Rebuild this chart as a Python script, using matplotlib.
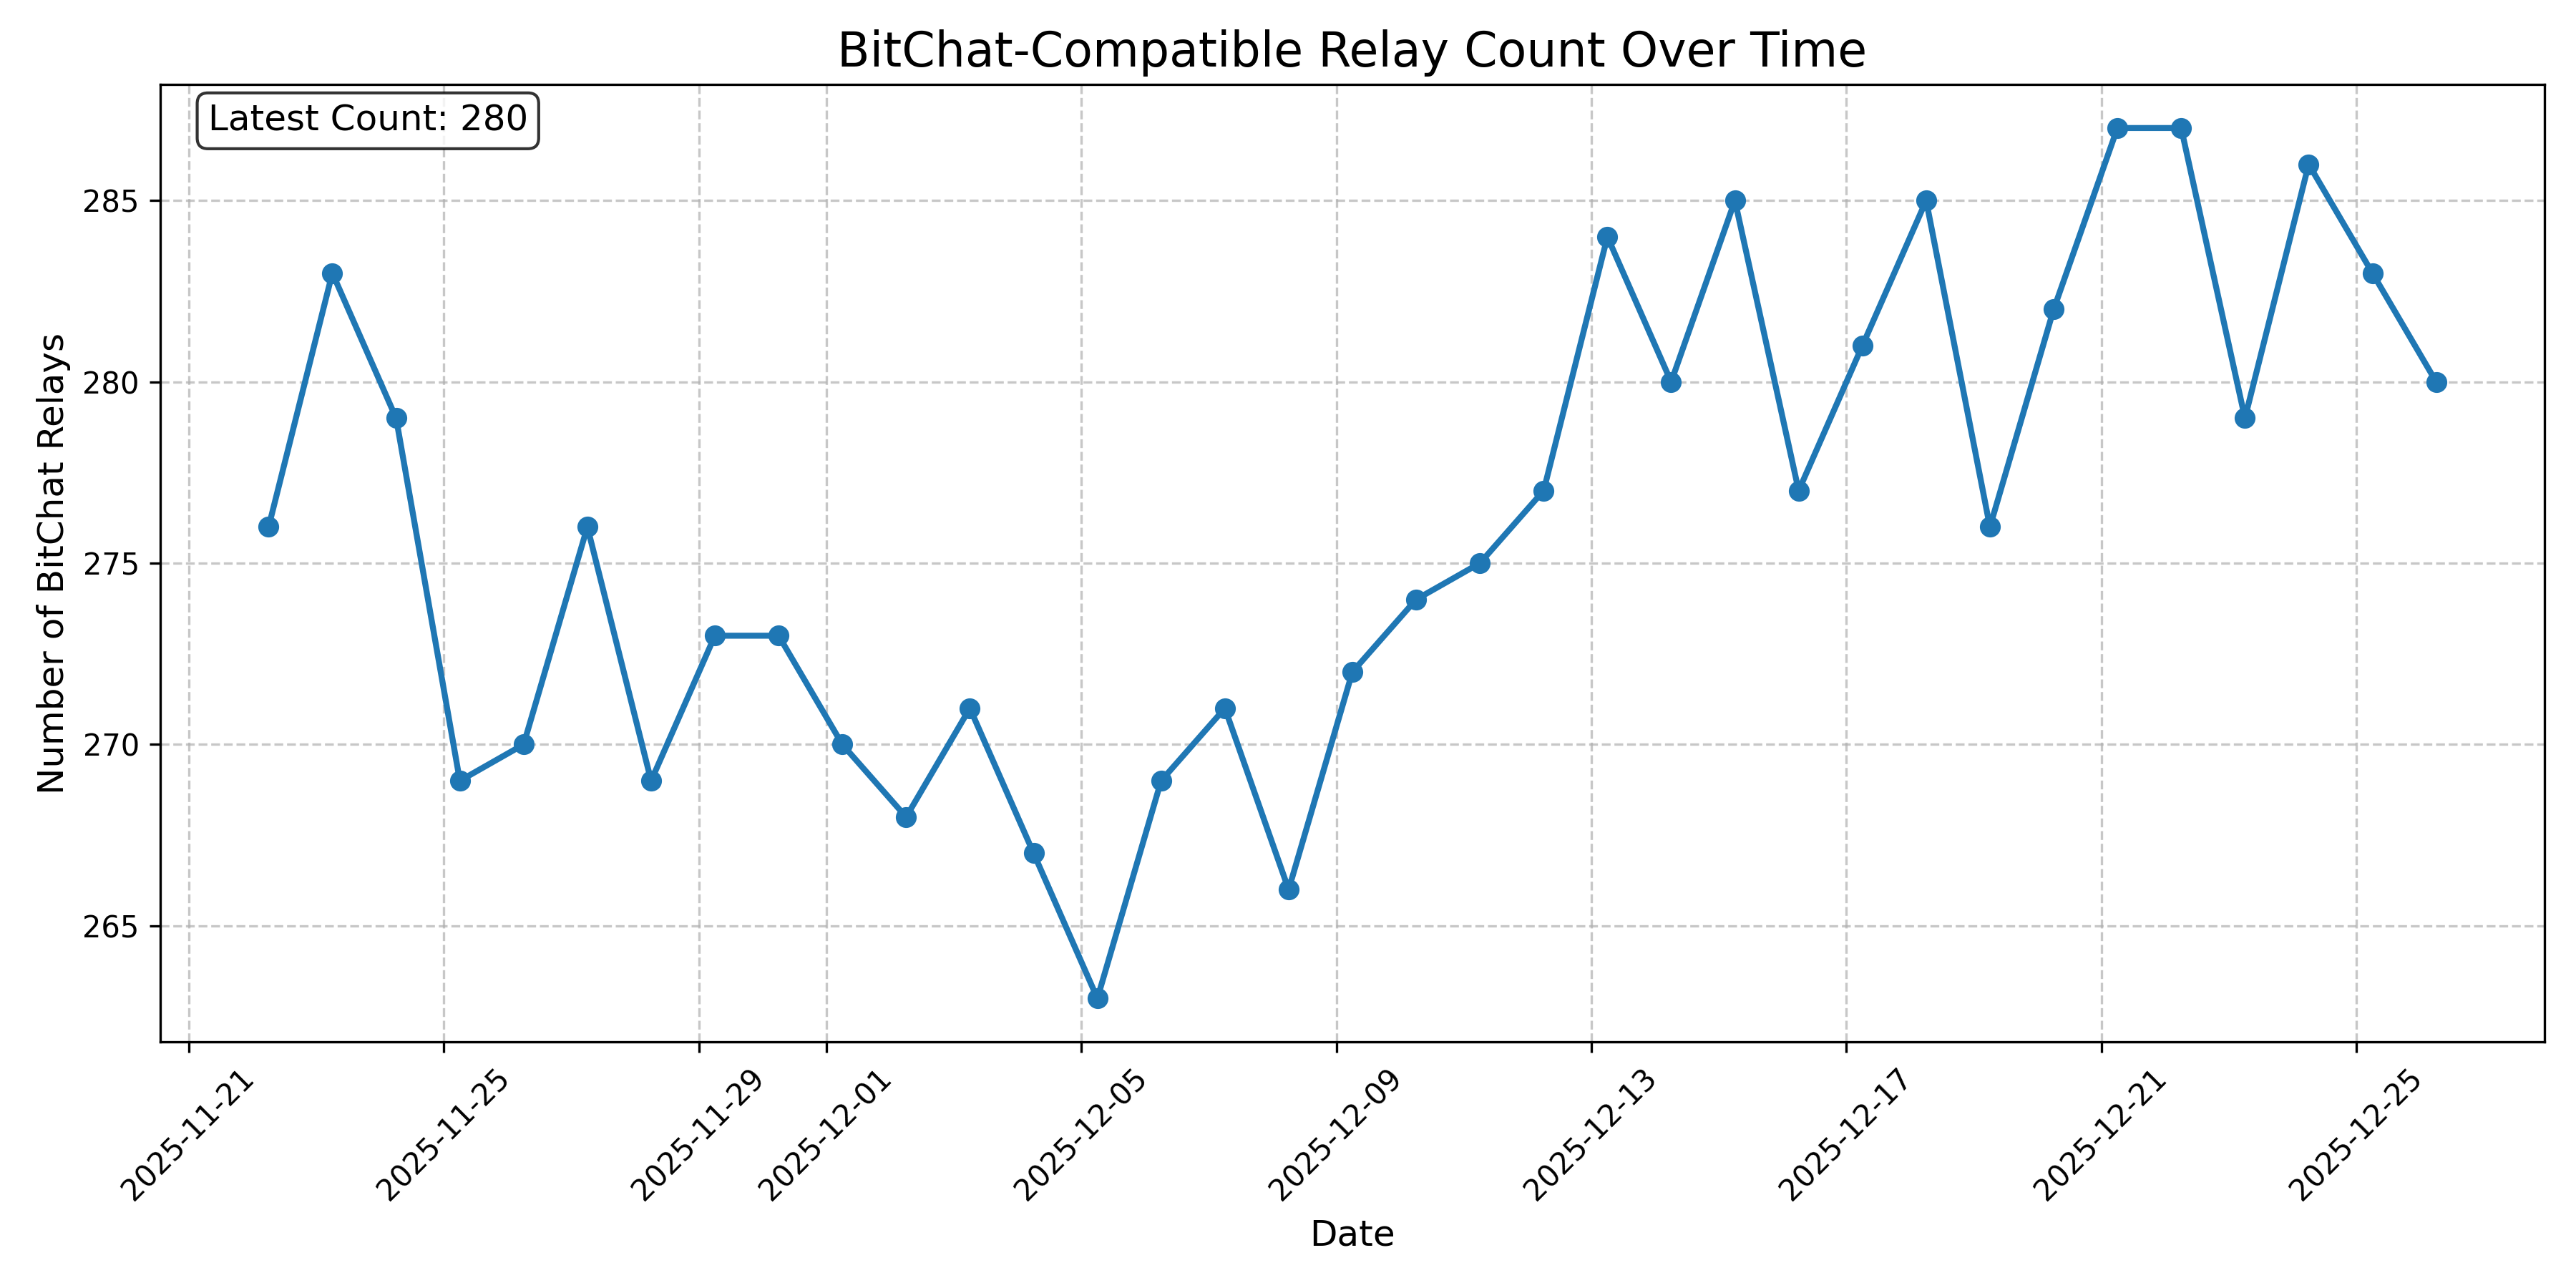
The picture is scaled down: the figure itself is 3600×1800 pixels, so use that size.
import matplotlib
matplotlib.use("Agg")
import matplotlib.pyplot as plt
import matplotlib.dates as mdates
import pandas as pd

start_date = "2025-11-22 06:00"
counts = [276, 283, 279, 269, 270, 276, 269, 273, 273, 270, 268, 271, 267, 263,
          269, 271, 266, 272, 274, 275, 277, 284, 280, 285, 277, 281, 285, 276,
          282, 287, 287, 279, 286, 283, 280]
dates = pd.date_range(start_date, periods=len(counts), freq="D")

fig, ax = plt.subplots(figsize=(12, 6), dpi=300)
ax.plot(dates, counts, marker="o", linewidth=2, markersize=6, color="#1f77b4")
ax.set_title("BitChat-Compatible Relay Count Over Time", fontsize=16)
ax.set_xlabel("Date", fontsize=12)
ax.set_ylabel("Number of BitChat Relays", fontsize=12)
ax.grid(True, linestyle="--", alpha=0.7)
ax.xaxis.set_major_formatter(mdates.DateFormatter("%Y-%m-%d"))
plt.setp(ax.get_xticklabels(), rotation=45)
ax.text(0.02, 0.98, f"Latest Count: {counts[-1]}", transform=ax.transAxes,
        fontsize=12, va="top",
        bbox=dict(boxstyle="round", facecolor="white", alpha=0.8))
fig.subplots_adjust(left=0.0622, right=0.9878, top=0.9344, bottom=0.1911)
fig.savefig("out.png", dpi=300)
